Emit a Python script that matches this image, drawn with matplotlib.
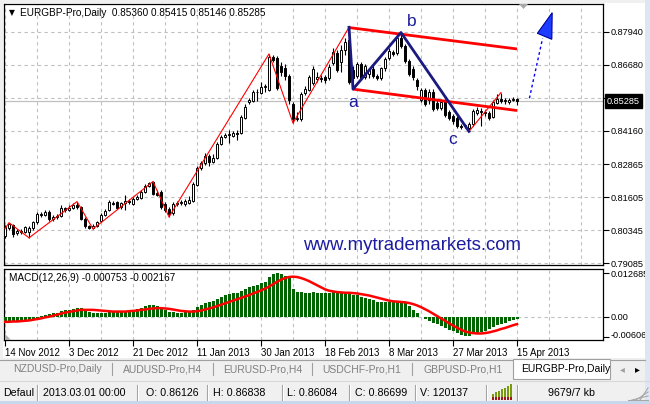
import matplotlib
matplotlib.use("Agg")
import matplotlib.pyplot as plt
from matplotlib.patches import Rectangle, Polygon
from matplotlib.lines import Line2D
import matplotlib.transforms as mtransforms

plt.rcParams['font.family'] = ['Liberation Sans', 'DejaVu Sans']

# ---------------------------------------------------------------- data
symbol = "EURGBP-Pro,Daily"
last_ohlc = ["0.85360", "0.85415", "0.85146", "0.85285"]

opens = [0.8013, 0.8044, 0.8055, 0.8025, 0.8032, 0.8028, 0.8028, 0.8044, 0.8067, 0.8097,
         0.8094, 0.8105, 0.8078, 0.8086, 0.8090, 0.8120, 0.8113, 0.8120, 0.8132, 0.8124,
         0.8078, 0.8051, 0.8044, 0.8051, 0.8070, 0.8094, 0.8113, 0.8139, 0.8143, 0.8124,
         0.8139, 0.8147, 0.8136, 0.8155, 0.8159, 0.8182, 0.8205, 0.8220, 0.8178, 0.8182,
         0.8136, 0.8117, 0.8101, 0.8136, 0.8139, 0.8136, 0.8139, 0.8147, 0.8208, 0.8274,
         0.8293, 0.8320, 0.8297, 0.8312, 0.8365, 0.8392, 0.8400, 0.8396, 0.8408, 0.8408,
         0.8465, 0.8526, 0.8530, 0.8565, 0.8561, 0.8584, 0.8572, 0.8699, 0.8695, 0.8664,
         0.8657, 0.8626, 0.8519, 0.8461, 0.8461, 0.8561, 0.8572, 0.8599, 0.8614, 0.8618,
         0.8622, 0.8618, 0.8676, 0.8714, 0.8680, 0.8726, 0.8764, 0.8649, 0.8626, 0.8672,
         0.8622, 0.8634, 0.8653, 0.8626, 0.8618, 0.8657, 0.8695, 0.8718, 0.8714, 0.8771,
         0.8741, 0.8683, 0.8653, 0.8611, 0.8534, 0.8572, 0.8534, 0.8565, 0.8522, 0.8503,
         0.8530, 0.8488, 0.8473, 0.8465, 0.8434, 0.8434, 0.8427, 0.8442, 0.8484, 0.8492,
         0.8488, 0.8484, 0.8469, 0.8522, 0.8538, 0.8530, 0.8526, 0.8534, 0.85360]
highs = [0.8055, 0.8063, 0.8059, 0.8040, 0.8040, 0.8051, 0.8051, 0.8070, 0.8105, 0.8105,
         0.8113, 0.8113, 0.8094, 0.8097, 0.8132, 0.8124, 0.8132, 0.8139, 0.8144, 0.8128,
         0.8086, 0.8055, 0.8059, 0.8070, 0.8101, 0.8117, 0.8151, 0.8147, 0.8147, 0.8143,
         0.8170, 0.8155, 0.8162, 0.8170, 0.8189, 0.8212, 0.8220, 0.8221, 0.8189, 0.8189,
         0.8143, 0.8124, 0.8143, 0.8147, 0.8151, 0.8155, 0.8166, 0.8220, 0.8281, 0.8300,
         0.8331, 0.8327, 0.8327, 0.8373, 0.8400, 0.8408, 0.8419, 0.8415, 0.8419, 0.8477,
         0.8519, 0.8542, 0.8572, 0.8576, 0.8603, 0.8595, 0.8710, 0.8706, 0.8703, 0.8680,
         0.8672, 0.8634, 0.8526, 0.8488, 0.8565, 0.8588, 0.8630, 0.8664, 0.8641, 0.8630,
         0.8630, 0.8672, 0.8733, 0.8726, 0.8745, 0.8771, 0.8812, 0.8664, 0.8680, 0.8680,
         0.8672, 0.8657, 0.8664, 0.8634, 0.8660, 0.8699, 0.8733, 0.8726, 0.8779, 0.8792,
         0.8748, 0.8691, 0.8664, 0.8618, 0.8580, 0.8580, 0.8576, 0.8576, 0.8534, 0.8538,
         0.8538, 0.8496, 0.8480, 0.8473, 0.8442, 0.8442, 0.8450, 0.8499, 0.8507, 0.8503,
         0.8496, 0.8492, 0.8534, 0.8557, 0.8562, 0.8542, 0.8542, 0.8546, 0.85415]
lows = [0.8005, 0.8036, 0.8009, 0.8017, 0.8021, 0.8025, 0.8005, 0.8036, 0.8059, 0.8086,
        0.8090, 0.8070, 0.8070, 0.8078, 0.8086, 0.8105, 0.8109, 0.8117, 0.8117, 0.8074,
        0.8044, 0.8040, 0.8039, 0.8048, 0.8067, 0.8090, 0.8109, 0.8132, 0.8117, 0.8117,
        0.8113, 0.8136, 0.8132, 0.8151, 0.8155, 0.8178, 0.8201, 0.8170, 0.8166, 0.8117,
        0.8105, 0.8085, 0.8094, 0.8128, 0.8132, 0.8128, 0.8136, 0.8143, 0.8205, 0.8266,
        0.8285, 0.8281, 0.8293, 0.8308, 0.8362, 0.8388, 0.8369, 0.8392, 0.8381, 0.8404,
        0.8461, 0.8519, 0.8526, 0.8530, 0.8557, 0.8565, 0.8568, 0.8680, 0.8572, 0.8626,
        0.8611, 0.8519, 0.8445, 0.8453, 0.8453, 0.8553, 0.8568, 0.8591, 0.8603, 0.8603,
        0.8599, 0.8611, 0.8668, 0.8641, 0.8641, 0.8706, 0.8595, 0.8575, 0.8618, 0.8611,
        0.8614, 0.8618, 0.8618, 0.8611, 0.8611, 0.8645, 0.8687, 0.8703, 0.8706, 0.8733,
        0.8676, 0.8626, 0.8611, 0.8572, 0.8526, 0.8511, 0.8519, 0.8492, 0.8496, 0.8496,
        0.8469, 0.8457, 0.8442, 0.8427, 0.8423, 0.8427, 0.8413, 0.8434, 0.8477, 0.8434,
        0.8473, 0.8457, 0.8465, 0.8519, 0.8522, 0.8519, 0.8519, 0.8530, 0.85146]
closes = [0.8048, 0.8059, 0.8021, 0.8032, 0.8028, 0.8048, 0.8044, 0.8067, 0.8097, 0.8094,
          0.8105, 0.8078, 0.8086, 0.8090, 0.8120, 0.8113, 0.8120, 0.8132, 0.8124, 0.8078,
          0.8051, 0.8044, 0.8051, 0.8067, 0.8094, 0.8109, 0.8143, 0.8136, 0.8120, 0.8139,
          0.8147, 0.8143, 0.8155, 0.8162, 0.8182, 0.8205, 0.8216, 0.8174, 0.8170, 0.8124,
          0.8113, 0.8097, 0.8136, 0.8139, 0.8143, 0.8147, 0.8151, 0.8212, 0.8274, 0.8293,
          0.8320, 0.8297, 0.8312, 0.8365, 0.8392, 0.8400, 0.8403, 0.8408, 0.8404, 0.8469,
          0.8507, 0.8534, 0.8565, 0.8563, 0.8584, 0.8588, 0.8699, 0.8687, 0.8580, 0.8641,
          0.8626, 0.8534, 0.8461, 0.8465, 0.8557, 0.8576, 0.8622, 0.8653, 0.8622, 0.8614,
          0.8611, 0.8660, 0.8718, 0.8649, 0.8726, 0.8756, 0.8603, 0.8618, 0.8672, 0.8618,
          0.8664, 0.8649, 0.8626, 0.8618, 0.8657, 0.8691, 0.8722, 0.8710, 0.8771, 0.8741,
          0.8683, 0.8634, 0.8622, 0.8588, 0.8572, 0.8519, 0.8565, 0.8499, 0.8503, 0.8526,
          0.8477, 0.8465, 0.8453, 0.8434, 0.8431, 0.8438, 0.8442, 0.8492, 0.8496, 0.8488,
          0.8484, 0.8465, 0.8526, 0.8538, 0.8530, 0.8534, 0.8534, 0.8538, 0.85285]

macd_main = [-0.0015, -0.0015, -0.0014, -0.0014, -0.0013, -0.0012, -0.0012, -0.0008, -0.0003, 0.0002,
             0.0006, 0.0008, 0.0010, 0.0012, 0.0016, 0.0019, 0.0021, 0.0023, 0.0025, 0.0024,
             0.0019, 0.0014, 0.0011, 0.0010, 0.0011, 0.0012, 0.0015, 0.0016, 0.0016, 0.0017,
             0.0018, 0.0018, 0.0020, 0.0023, 0.0026, 0.0031, 0.0034, 0.0034, 0.0032, 0.0026,
             0.0020, 0.0014, 0.0013, 0.0012, 0.0012, 0.0013, 0.0014, 0.0019, 0.0027, 0.0034,
             0.0040, 0.0043, 0.0047, 0.0053, 0.0058, 0.0062, 0.0065, 0.0068, 0.0070, 0.0076,
             0.0082, 0.0086, 0.0091, 0.0094, 0.0098, 0.0102, 0.0115, 0.0124, 0.0127, 0.0125,
             0.0120, 0.0115, 0.0080, 0.0073, 0.0072, 0.0070, 0.0070, 0.0071, 0.0070, 0.0069,
             0.0069, 0.0070, 0.0073, 0.0072, 0.0072, 0.0073, 0.0066, 0.0062, 0.0062, 0.0058,
             0.0055, 0.0052, 0.0048, 0.0044, 0.0042, 0.0042, 0.0044, 0.0044, 0.0045, 0.0044,
             0.0039, 0.0030, 0.0020, 0.0010, -0.0002, -0.0008, -0.0012, -0.0018, -0.0022, -0.0026,
             -0.0032, -0.0038, -0.0043, -0.0049, -0.0053, -0.0056, -0.0057, -0.0052, -0.0048, -0.0045,
             -0.0041, -0.0037, -0.0030, -0.0025, -0.0021, -0.0018, -0.0014, -0.0011, -0.000753]
macd_signal = [-0.0015, -0.0015, -0.0014, -0.0014, -0.0013, -0.0012, -0.0011, -0.0009, -0.0007, -0.0005,
               -0.0002, 0.0000, 0.0003, 0.0006, 0.0009, 0.0012, 0.0014, 0.0016, 0.0018, 0.0020,
               0.0020, 0.0020, 0.0020, 0.0019, 0.0018, 0.0017, 0.0016, 0.0015, 0.0015, 0.0015,
               0.0015, 0.0016, 0.0017, 0.0018, 0.0020, 0.0021, 0.0023, 0.0024, 0.0025, 0.0025,
               0.0024, 0.0023, 0.0021, 0.0019, 0.0017, 0.0016, 0.0015, 0.0015, 0.0016, 0.0018,
               0.0021, 0.0024, 0.0027, 0.0031, 0.0035, 0.0039, 0.0043, 0.0047, 0.0051, 0.0055,
               0.0059, 0.0063, 0.0068, 0.0072, 0.0077, 0.0082, 0.0088, 0.0095, 0.0102, 0.0108,
               0.0113, 0.0116, 0.0117, 0.0116, 0.0113, 0.0109, 0.0104, 0.0098, 0.0092, 0.0086,
               0.0080, 0.0076, 0.0074, 0.0072, 0.0071, 0.0070, 0.0070, 0.0069, 0.0068, 0.0066,
               0.0064, 0.0062, 0.0059, 0.0056, 0.0053, 0.0050, 0.0047, 0.0045, 0.0044, 0.0043,
               0.0042, 0.0040, 0.0037, 0.0033, 0.0028, 0.0022, 0.0016, 0.0009, 0.0002, -0.0005,
               -0.0012, -0.0019, -0.0026, -0.0032, -0.0038, -0.0043, -0.0046, -0.0048, -0.0049, -0.0049,
               -0.0048, -0.0046, -0.0043, -0.0040, -0.0036, -0.0033, -0.0029, -0.0025, -0.002167]

date_bars = [0, 16, 32, 48, 64, 80, 96, 112, 128]
date_labels = ["14 Nov 2012", "3 Dec 2012", "21 Dec 2012", "11 Jan 2013", "30 Jan 2013",
               "18 Feb 2013", "8 Mar 2013", "27 Mar 2013", "15 Apr 2013"]
price_ticks = [0.87940, 0.86680, 0.85420, 0.84160, 0.82865, 0.81605, 0.80345, 0.79085]
price_labels = ["0.87940", "0.86680", "", "0.84160", "0.82865", "0.81605", "0.80345", "0.79085"]
macd_ticks = [0.012685, 0.0, -0.006066]
macd_labels = ["0.012685", "0.00", "-0.006066"]

zigzag_bars = [0, 1, 6, 18, 22, 37, 41, 66, 72, 86, 87, 99, 116, 124]
zigzag_prices = [0.8040, 0.8063, 0.8005, 0.8144, 0.8039, 0.8221, 0.8085, 0.8710, 0.8445,
                 0.8812, 0.8575, 0.8792, 0.8413, 0.8562]
abc_bars = [86, 87, 99, 116]
abc_prices = [0.8812, 0.8575, 0.8792, 0.8413]
channel_upper_bars = [86, 128]
channel_upper_prices = [0.8811, 0.8729]
channel_lower_bars = [87, 128]
channel_lower_prices = [0.8575, 0.8493]
wave_labels = ["a", "b", "c"]
wave_label_bars = [87.0, 101.8, 111.8]
wave_label_prices = [0.8523, 0.8833, 0.8381]
forecast_bars = [131.1, 134.4]
forecast_prices = [0.8540, 0.8770]
forecast_head_bars = [133.1, 136.8, 136.7]
forecast_head_prices = [0.8789, 0.8868, 0.8766]

# ---------------------------------------------------------------- figure
W, H = 650, 404
fig = plt.figure(figsize=(W / 100, H / 100), dpi=100)
fig.patch.set_facecolor('#f0f0f0')


def fx(x):
    return x / W


def fy(y):
    return 1 - y / H


def frect(x0, y0, x1, y1, **kw):
    r = Rectangle((fx(x0), fy(y1)), fx(x1) - fx(x0), fy(y0) - fy(y1),
                  transform=fig.transFigure, **kw)
    fig.add_artist(r)
    return r


def fline(xs, ys, **kw):
    fig.add_artist(Line2D([fx(v) for v in xs], [fy(v) for v in ys],
                          transform=fig.transFigure, **kw))


# chart window background
frect(3, 3, 645, 358, facecolor='white', edgecolor='none', zorder=0)

grid_kw = dict(color='#c0c0c0', linestyle=(0, (3, 3)), linewidth=0.8)
xlim = (-0.25, 149.5)
axis_fs = 6.6

# ---------------------------------------------------------------- price panel
ax = fig.add_axes([fx(4), fy(265), fx(603) - fx(4), fy(4) - fy(265)])
ax.set_facecolor('white')
ax.set_xlim(*xlim)
ax.set_ylim(0.79009, 0.89013)
for s in ax.spines.values():
    s.set_color('black')
    s.set_linewidth(0.9)
ax.set_xticks(list(range(0, 150, 8)))
ax.tick_params(axis='x', length=0, labelbottom=False)
ax.yaxis.tick_right()
ax.set_yticks(price_ticks)
ax.set_yticklabels(price_labels)
ax.tick_params(axis='y', length=4, width=0.8, pad=1.5, labelsize=axis_fs, colors='black')
ax.grid(True, **grid_kw)
ax.set_axisbelow(True)

ax.axhline(float(last_ohlc[3]), color='#c0c0c0', linewidth=0.9, zorder=1)

# candlesticks
n = len(closes)
xs = list(range(n))
ax.vlines(xs, lows, highs, color='black', linewidth=0.8, zorder=3)
for i in range(n):
    o, c = opens[i], closes[i]
    lo, hi = min(o, c), max(o, c)
    face = 'white' if c >= o else 'black'
    ax.add_patch(Rectangle((i - 0.36, lo), 0.72, max(hi - lo, 1e-6),
                           facecolor=face, edgecolor='black', linewidth=0.7, zorder=4))

# zigzag, channel and wave pattern
ax.plot(zigzag_bars, zigzag_prices, color='red', linewidth=0.8, zorder=5)
ax.plot(channel_upper_bars, channel_upper_prices, color='red', linewidth=2.0, zorder=6,
        solid_capstyle='butt')
ax.plot(channel_lower_bars, channel_lower_prices, color='red', linewidth=2.0, zorder=6,
        solid_capstyle='butt')
ax.plot(abc_bars, abc_prices, color='#1a1a80', linewidth=2.0, zorder=7)
for t, b, p in zip(wave_labels, wave_label_bars, wave_label_prices):
    ax.text(b, p, t, color='#1a1a9a', fontsize=12.5, ha='center', va='center', zorder=8)

# projected move
ax.plot(forecast_bars, forecast_prices, color='#0000ff', linewidth=1.0,
        linestyle=(0, (2, 2)), zorder=7, clip_on=False)
ax.add_patch(Polygon(list(zip(forecast_head_bars, forecast_head_prices)), closed=True,
                     facecolor='#1e3cff', edgecolor='#0000a0', linewidth=0.8, zorder=8,
                     clip_on=False))

# current price tag
blend = mtransforms.blended_transform_factory(ax.transAxes, ax.transData)
ax.annotate(last_ohlc[3], xy=(1.0, float(last_ohlc[3])), xycoords=blend,
            xytext=(4, 0), textcoords='offset pixels', ha='left', va='center',
            fontsize=axis_fs, color='white', zorder=10, annotation_clip=False,
            bbox=dict(boxstyle='square,pad=0.25', facecolor='black', edgecolor='black'))

# header
fig.text(fx(9), fy(13), "\u25bc", fontsize=5.5, family='DejaVu Sans', va='center', ha='left')
fig.text(fx(20), fy(13), symbol + "  " + " ".join(last_ohlc), fontsize=7.2,
         va='center', ha='left')

fig.text(fx(412), fy(245), "www.mytrademarkets.com", fontsize=13.4, color='#1c1ca0',
         ha='center', va='center')

# ---------------------------------------------------------------- MACD panel
mx = fig.add_axes([fx(4), fy(340), fx(603) - fx(4), fy(269) - fy(340)])
mx.set_facecolor('white')
mx.set_xlim(*xlim)
mx.set_ylim(-0.00681, 0.01394)
for s in mx.spines.values():
    s.set_color('black')
    s.set_linewidth(0.9)
mx.set_xticks(date_bars)
mx.set_xticklabels(date_labels, ha='left')
mx.set_xticks(list(range(8, 150, 16)), minor=True)
mx.tick_params(axis='x', which='major', length=4, width=0.8, pad=2, labelsize=7)
mx.tick_params(axis='x', which='minor', length=0)
mx.grid(True, axis='x', which='both', **grid_kw)
mx.axhline(0.0, zorder=0, **grid_kw)
mx.set_axisbelow(True)
mx.yaxis.tick_right()
mx.set_yticks(macd_ticks)
mx.set_yticklabels(macd_labels)
mx.tick_params(axis='y', length=4, width=0.8, pad=1.5, labelsize=axis_fs)
# lowest scale label sits a little above its tick so it stays inside the panel
low_lbl = mx.get_yticklabels()[2]
low_lbl.set_transform(low_lbl.get_transform() +
                      mtransforms.ScaledTranslation(0, 3 / 100, fig.dpi_scale_trans))

mx.bar(xs, macd_main, width=0.75, color='#006400', linewidth=0, zorder=3)
mx.plot(xs, macd_signal, color='red', linewidth=1.8, zorder=4)
mx.text(0.009, 0.88, "MACD(12,26,9) -0.000753 -0.002167", transform=mx.transAxes,
        fontsize=7.2, ha='left', va='center')

# chart shift markers
fig.add_artist(Polygon([(fx(519), fy(4)), (fx(528), fy(4)), (fx(523.5), fy(9))],
                       transform=fig.transFigure, facecolor='#a8a8a8', edgecolor='none',
                       zorder=5))
fig.add_artist(Polygon([(fx(5), fy(334)), (fx(5), fy(339.5)), (fx(10.5), fy(339.5))],
                       transform=fig.transFigure, facecolor='#b0b0b0', edgecolor='none',
                       zorder=5))

# ---------------------------------------------------------------- window chrome
frect(645, 0, 650, 404, facecolor='#dce6f4', edgecolor='none', zorder=20)
frect(0, 359, 645, 380, facecolor='#f0f0f0', edgecolor='none', zorder=20)
fline([0, 645], [359.5, 359.5], color='#a0a0a0', linewidth=0.8, zorder=21)
frect(0, 401, 650, 404, facecolor='#c8d8ec', edgecolor='none', zorder=20)

tabs = ["NZDUSD-Pro,Daily", "AUDUSD-Pro,H4", "EURUSD-Pro,H4", "USDCHF-Pro,H1", "GBPUSD-Pro,H1"]
tab_x = [13, 123, 223, 322, 423]
sep_x = [112, 213, 312, 412]
for t, x in zip(tabs, tab_x):
    fig.text(fx(x), fy(369), t, fontsize=7.5, color='#808080', ha='left', va='center',
             zorder=22)
for x in sep_x:
    fline([x, x], [363, 375], color='#a0a0a0', linewidth=0.8, zorder=22)
frect(513, 359, 610, 378.5, facecolor='white', edgecolor='#a0a0a0', linewidth=0.8, zorder=21)
fig.text(fx(521), fy(369), symbol, fontsize=7.5, color='black', ha='left', va='center',
         zorder=22)
fig.text(fx(622), fy(369), "\u25c2", fontsize=7, color='#a0a0a0', ha='center', va='center',
         family='DejaVu Sans', zorder=22)
fig.text(fx(637), fy(369), "\u25b8", fontsize=7, color='black', ha='center', va='center',
         family='DejaVu Sans', zorder=22)

# status bar
fline([0, 650], [380.5, 380.5], color='#d8d8d8', linewidth=0.8, zorder=21)
status = [("Defaul", 3), ("2013.03.01 00:00", 43), ("O: 0.86126", 146), ("H: 0.86838", 213),
          ("L: 0.86084", 287), ("C: 0.86699", 355), ("V: 120137", 420), ("9679/7 kb", 548)]
for t, x in status:
    fig.text(fx(x), fy(392.5), t, fontsize=7.7, color='black', ha='left', va='center',
             zorder=22)
frect(336, 384, 349, 400, facecolor='#f0f0f0', edgecolor='none', zorder=22)
for x in [37, 137, 207, 282, 349, 415, 486, 517]:
    fline([x, x], [385, 400], color='#a0a0a0', linewidth=0.8, zorder=23)
    fline([x + 1, x + 1], [385, 400], color='white', linewidth=0.8, zorder=23)
# connection indicator
for k in range(7):
    hgt = 3 + k * 1.6
    frect(492 + k * 3, 397 - hgt, 494 + k * 3, 397, facecolor='#7a9a10', edgecolor='none',
          zorder=23)
    frect(492 + k * 3, 397, 494 + k * 3, 399.5, facecolor='#a01818', edgecolor='none',
          zorder=23)
for k in range(4):
    fline([640 - 4 * k, 648], [400, 392 + 4 * k - 4], color='#a8a8a8', linewidth=0.8, zorder=23)

fig.savefig("out.png", dpi=100, facecolor=fig.get_facecolor())
